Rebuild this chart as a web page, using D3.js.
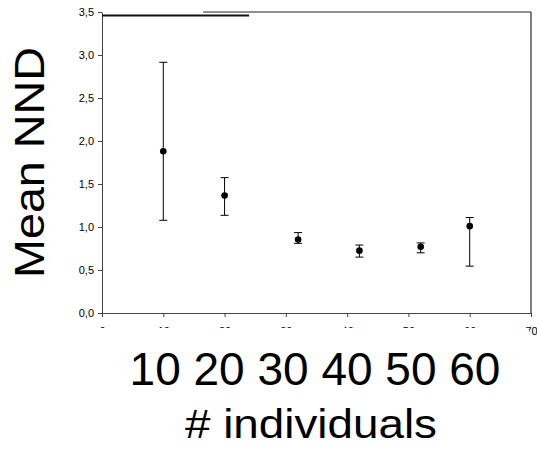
<!DOCTYPE html>
<html>
<head>
<meta charset="utf-8">
<script src="https://cdn.jsdelivr.net/npm/d3@7"></script>
<style>
  html, body { margin: 0; padding: 0; background: #fff; }
  svg { display: block; font-family: "Liberation Sans", Arial, sans-serif; }
</style>
</head>
<body>
<svg id="chart" width="537" height="449"></svg>
<script>
// Group sizes and mean nearest-neighbour distance with error ranges
const groupSize = [10, 20, 32, 42, 52, 60];
const meanNND   = [1.88, 1.365, 0.855, 0.725, 0.77, 1.01];
const upperNND  = [2.915, 1.574, 0.935, 0.79, 0.815, 1.11];
const lowerNND  = [1.078, 1.136, 0.81, 0.65, 0.70, 0.545];

const xTickValues = [0, 10, 20, 30, 40, 50, 60, 70];
const yTickValues = [0, 0.5, 1.0, 1.5, 2.0, 2.5, 3.0, 3.5];
const bigXLabels  = ["10", "20", "30", "40", "50", "60"];

const svg = d3.select("#chart");
const plotLeft = 102, plotRight = 531, plotTop = 12, plotBottom = 313;

const x = d3.scaleLinear().domain([0, 70]).range([plotLeft, plotRight]);
const y = d3.scaleLinear().domain([0, 3.5]).range([plotBottom, plotTop]);
const fmt = d => d3.format(".1f")(d).replace(".", ",");

// x axis with small tick labels
const xAxis = svg.append("g")
  .attr("transform", `translate(0,${plotBottom})`)
  .call(d3.axisBottom(x).tickValues(xTickValues).tickSize(4).tickSizeOuter(0).tickPadding(10));
xAxis.select(".domain").attr("stroke", "#444");
xAxis.selectAll(".tick line").attr("stroke", "#444");
xAxis.selectAll(".tick text").attr("font-size", 11).attr("fill", "#000")
  .attr("font-family", "'Liberation Sans', Arial, sans-serif");

// the small x labels sit mostly under the large label block
svg.append("rect").attr("x", 85).attr("y", 328).attr("width", 444).attr("height", 121).attr("fill", "#fff");

// y axis
const yAxis = svg.append("g")
  .attr("transform", `translate(${plotLeft},0)`)
  .call(d3.axisLeft(y).tickValues(yTickValues).tickFormat(fmt).tickSize(4).tickSizeOuter(0).tickPadding(4));
yAxis.select(".domain").attr("stroke", "#444");
yAxis.selectAll(".tick line").attr("stroke", "#444");
yAxis.selectAll(".tick text").attr("font-size", 11).attr("fill", "#000")
  .attr("font-family", "'Liberation Sans', Arial, sans-serif");

// frame: right edge and partial top edge
svg.append("line").attr("x1", plotRight).attr("x2", plotRight).attr("y1", plotTop).attr("y2", plotBottom)
  .attr("stroke", "#555").attr("stroke-width", 1.5);
svg.append("line").attr("x1", x(16.5)).attr("x2", plotRight).attr("y1", plotTop).attr("y2", plotTop)
  .attr("stroke", "#222").attr("stroke-width", 1);
// heavy rule near the top-left
svg.append("line").attr("x1", plotLeft).attr("x2", x(24)).attr("y1", y(3.46)).attr("y2", y(3.46))
  .attr("stroke", "#111").attr("stroke-width", 2);

// error bars
const cap = 4;
const bars = svg.append("g").attr("stroke", "#000").attr("stroke-width", 1);
groupSize.forEach((g, i) => {
  const cx = x(g);
  bars.append("line").attr("x1", cx).attr("x2", cx).attr("y1", y(upperNND[i])).attr("y2", y(lowerNND[i]));
  bars.append("line").attr("x1", cx - cap).attr("x2", cx + cap).attr("y1", y(upperNND[i])).attr("y2", y(upperNND[i]));
  bars.append("line").attr("x1", cx - cap).attr("x2", cx + cap).attr("y1", y(lowerNND[i])).attr("y2", y(lowerNND[i]));
});

// mean points
svg.append("g").selectAll("circle").data(groupSize).join("circle")
  .attr("cx", d => x(d))
  .attr("cy", (d, i) => y(meanNND[i]))
  .attr("r", 3.3)
  .attr("fill", "#000");

// large axis titles
svg.append("text").attr("x", 315).attr("y", 385).attr("text-anchor", "middle")
  .attr("font-size", 46).text(bigXLabels.join(" "));
svg.append("text").attr("x", 311).attr("y", 438).attr("text-anchor", "middle")
  .attr("font-size", 40).attr("textLength", 252).attr("lengthAdjust", "spacingAndGlyphs")
  .text("# individuals");
svg.append("text").attr("transform", "translate(43.5,162.5) rotate(-90)").attr("text-anchor", "middle")
  .attr("font-size", 42).attr("textLength", 231).attr("lengthAdjust", "spacingAndGlyphs")
  .text("Mean NND");
</script>
</body>
</html>
